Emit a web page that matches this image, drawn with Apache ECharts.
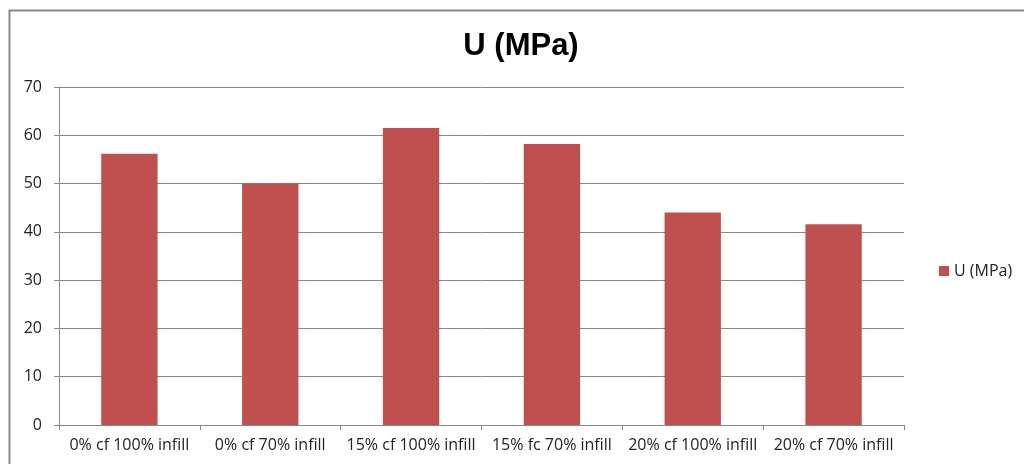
<!DOCTYPE html>
<html>
<head>
<meta charset="utf-8">
<script src="https://cdn.jsdelivr.net/npm/echarts@6/dist/echarts.min.js"></script>
<style>
  html, body { margin: 0; padding: 0; background: #fff; }
  #chart { width: 1024px; height: 464px; }
</style>
</head>
<body>
<div id="chart"></div>
<script>
const categories = ['0% cf 100% infill', '0% cf 70% infill', '15% cf 100% infill', '15% fc 70% infill', '20% cf 100% infill', '20% cf 70% infill']
const uValues = [56.2, 50.0, 61.5, 58.2, 44.0, 41.6]
const seriesName = 'U (MPa)'

const chart = echarts.init(document.getElementById('chart'))
const font = 'Open Sans, Liberation Sans, sans-serif'

chart.setOption({
  animation: false,
  graphic: [{
    type: 'rect',
    shape: { x: 9.5, y: 10.5, width: 1100, height: 500 },
    style: { fill: 'none', stroke: '#888', lineWidth: 2 }
  }],
  title: {
    text: 'U (MPa)',
    left: 516,
    textAlign: 'center',
    top: 26,
    textStyle: { fontSize: 31, fontWeight: 'bold', color: '#000', fontFamily: 'Liberation Sans, sans-serif' }
  },
  legend: {
    data: [seriesName],
    left: 934,
    top: 258,
    itemWidth: 10,
    itemHeight: 10,
    itemGap: 4,
    icon: 'rect',
    textStyle: { fontSize: 16, color: '#222', fontFamily: font }
  },
  grid: {
    left: 59,
    right: 120,
    top: 87,
    bottom: 39
  },
  xAxis: {
    type: 'category',
    data: categories,
    axisLine: { lineStyle: { color: '#888', width: 1 } },
    axisTick: { show: true, length: 5, lineStyle: { color: '#888' } },
    axisLabel: { fontSize: 16, color: '#222', margin: 12, fontFamily: font, interval: 0 }
  },
  yAxis: {
    type: 'value',
    min: 0,
    max: 70,
    interval: 10,
    axisLine: { show: true, lineStyle: { color: '#888' } },
    axisTick: { show: true, inside: false, length: 5, lineStyle: { color: '#888' } },
    axisLabel: { fontSize: 16, color: '#222', margin: 17, fontFamily: font },
    splitLine: { lineStyle: { color: '#888', width: 1 } }
  },
  series: [{
    name: seriesName,
    type: 'bar',
    barWidth: '40%',
    data: uValues,
    itemStyle: { color: '#C0504D' }
  }]
})
</script>
</body>
</html>
